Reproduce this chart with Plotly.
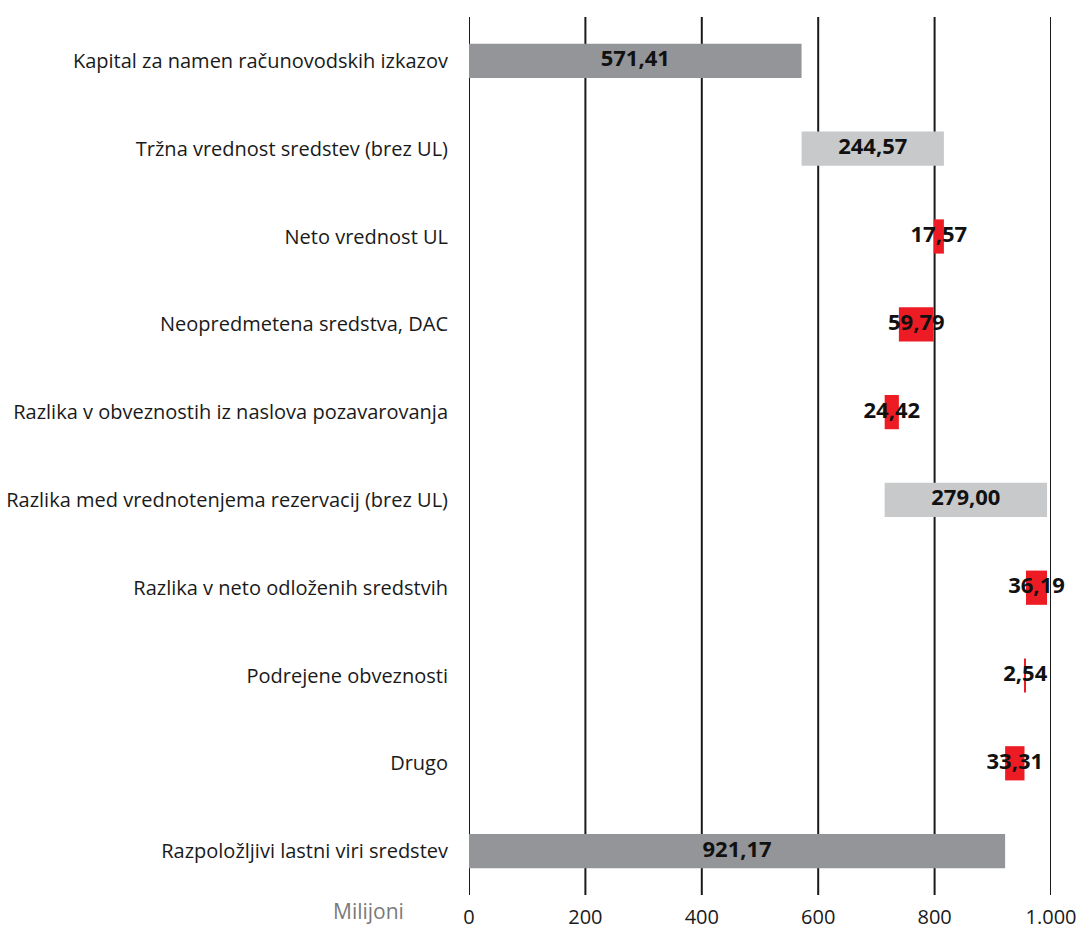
import plotly.graph_objects as go

# Waterfall of own funds (in millions)
categories = [
    "Kapital za namen računovodskih izkazov",
    "Tržna vrednost sredstev (brez UL)",
    "Neto vrednost UL",
    "Neopredmetena sredstva, DAC",
    "Razlika v obveznostih iz naslova pozavarovanja",
    "Razlika med vrednotenjema rezervacij (brez UL)",
    "Razlika v neto odloženih sredstvih",
    "Podrejene obveznosti",
    "Drugo",
    "Razpoložljivi lastni viri sredstev",
]
values = [571.41, 244.57, -17.57, -59.79, -24.42, 279.00, -36.19, -2.54, -33.31, 921.17]
measures = ["absolute", "relative", "relative", "relative", "relative",
            "relative", "relative", "relative", "relative", "absolute"]

tick_vals = [0, 200, 400, 600, 800, 1000]
tick_text = ["0", "200", "400", "600", "800", "1.000"]

COL_TOTAL = "#939598"
COL_UP = "#c8c9cb"
COL_DOWN = "#ed1c24"


def fmt(v):
    return f"{abs(v):.2f}".replace(".", ",")


# start/end of every bar, to centre the value labels
mids = []
level = 0.0
for v, m in zip(values, measures):
    if m == "absolute":
        start, end = 0.0, v
        level = v
    else:
        start, end = level, level + v
        level = end
    mids.append((start + end) / 2)

fig = go.Figure()
fig.add_trace(go.Waterfall(
    orientation="h",
    y=categories,
    x=values,
    measure=measures,
    base=0,
    increasing=dict(marker=dict(color=COL_UP)),
    decreasing=dict(marker=dict(color=COL_DOWN)),
    totals=dict(marker=dict(color=COL_TOTAL)),
    connector=dict(visible=False),
    textposition="none",
    hoverinfo="skip",
))
fig.add_trace(go.Scatter(
    x=mids,
    y=categories,
    mode="text",
    text=[fmt(v) for v in values],
    textposition="middle center",
    textfont=dict(family="Open Sans", size=22, color="#111111", weight="bold"),
    cliponaxis=False,
    hoverinfo="skip",
))

# vertical grid lines at every tick, including both ends of the axis
for tv in tick_vals:
    fig.add_shape(
        type="line", xref="x", yref="paper",
        x0=tv, x1=tv, y0=0, y1=1,
        line=dict(color="#1a1a1a", width=2),
        layer="below",
    )

fig.add_annotation(
    text="Milijoni", xref="paper", yref="paper",
    x=-0.172, y=-0.018, xanchor="center", yanchor="middle",
    showarrow=False,
    font=dict(family="Open Sans", size=21, color="#7a7a7a"),
)

fig.update_layout(
    width=1077, height=929,
    margin=dict(l=469, r=26, t=17, b=34),
    plot_bgcolor="white", paper_bgcolor="white",
    showlegend=False,
    waterfallgap=0.61,
    xaxis=dict(
        range=[0, 1000],
        tickvals=tick_vals, ticktext=tick_text,
        showgrid=False, zeroline=False, showline=False,
        ticks="", ticklabelstandoff=8, automargin=False,
        ticklabeloverflow="allow",
        tickfont=dict(family="Open Sans", size=20, color="#1a1a1a"),
    ),
    yaxis=dict(
        autorange="reversed",
        showgrid=False, zeroline=False, showline=False,
        ticks="", ticklabelstandoff=20, automargin=False,
        tickfont=dict(family="Open Sans", size=20, color="#1a1a1a"),
    ),
)

fig.write_html("out.html")
